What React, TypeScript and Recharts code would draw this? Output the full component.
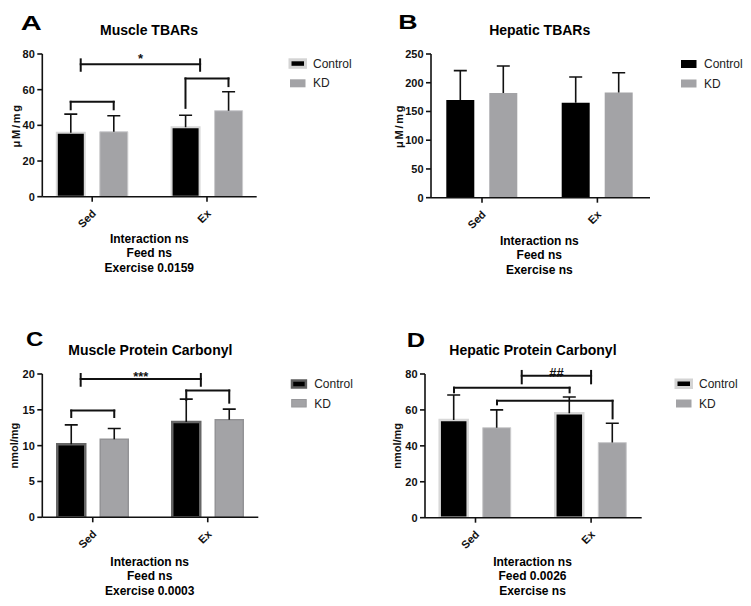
import React from 'react';
import { BarChart, Bar, XAxis, YAxis, ReferenceLine, ReferenceDot } from 'recharts';

// ---------- data ----------
const categories = ['Sed', 'Ex'];
const seriesNames = ['Control', 'KD'];

// A – Muscle TBARs (µM/mg)
const muscleTbarsControl = [35.8, 38.9];
const muscleTbarsControlErr = [10.5, 6.8];
const muscleTbarsKD = [36.4, 48.2];
const muscleTbarsKDErr = [9.0, 10.6];
const muscleTbarsTicks = [0, 20, 40, 60, 80];
const muscleTbarsStats = ['Interaction ns', 'Feed ns', 'Exercise 0.0159'];

// B – Hepatic TBARs (µM/mg)
const hepaticTbarsControl = [170, 165];
const hepaticTbarsControlErr = [51, 45];
const hepaticTbarsKD = [182, 183];
const hepaticTbarsKDErr = [47, 34.5];
const hepaticTbarsTicks = [0, 50, 100, 150, 200, 250];
const hepaticTbarsStats = ['Interaction ns', 'Feed ns', 'Exercise ns'];

// C – Muscle Protein Carbonyl (nmol/mg)
const musclePcControl = [10.2, 13.3];
const musclePcControlErr = [2.7, 3.2];
const musclePcKD = [10.9, 13.6];
const musclePcKDErr = [1.5, 1.5];
const musclePcTicks = [0, 5, 10, 15, 20];
const musclePcStats = ['Interaction ns', 'Feed ns', 'Exercise 0.0003'];

// D – Hepatic Protein Carbonyl (nmol/mg)
const hepaticPcControl = [54.4, 58.1];
const hepaticPcControlErr = [13.9, 9.1];
const hepaticPcKD = [50.1, 41.8];
const hepaticPcKDErr = [9.9, 10.8];
const hepaticPcTicks = [0, 20, 40, 60, 80];
const hepaticPcStats = ['Interaction ns', 'Feed 0.0026', 'Exercise ns'];

// significance brackets (x in category units 0..2, y in data units)
type Pair = { kind: 'pair'; a: [number, number]; b: [number, number]; y: number; endA: number; endB: number };
type IBar = { kind: 'ibar'; x1: number; x2: number; y: number; lo: number; hi: number; text: string };
type Br = Pair | IBar;

const muscleTbarsBrackets: Br[] = [
  { kind: 'ibar', x1: 0.4, x2: 1.44, y: 74.2, lo: 70.6, hi: 77.0, text: '*' },
  { kind: 'pair', a: [0, 0], b: [0, 1], y: 53.2, endA: 49, endB: 49 },
  { kind: 'pair', a: [1, 0], b: [1, 1], y: 66.3, endA: 49.8, endB: 62 },
];
const musclePcBrackets: Br[] = [
  { kind: 'ibar', x1: 0.395, x2: 1.44, y: 19.3, lo: 18.36, hi: 20.0, text: '***' },
  { kind: 'pair', a: [0, 0], b: [0, 1], y: 14.9, endA: 14.0, endB: 14.0 },
  { kind: 'pair', a: [1, 0], b: [1, 1], y: 17.7, endA: 16.4, endB: 16.0 },
];
const hepaticPcBrackets: Br[] = [
  { kind: 'ibar', x1: 0.9, x2: 1.5, y: 79.06, lo: 74.8, hi: 81.7, text: '##' },
  { kind: 'pair', a: [0, 0], b: [1, 0], y: 72.4, endA: 69.8, endB: 69.8 },
  { kind: 'pair', a: [0, 1], b: [1, 1], y: 65.1, endA: 63.1, endB: 55.3 },
];

// ---------- styles ----------
const FONT = '"Liberation Sans", Arial, Helvetica, sans-serif';
const INK = '#111111';
const CONTROL_FILL = '#000000';
const KD_FILL = '#a3a3a6';
const BAR_SIZE = 28;
const BAR_GAP = 15;

type PanelCfg = {
  id: string;
  left: number; top: number;
  plotLeft: number; plotRight: number; plotTop: number; plotBottom: number;
  padL: number; padR: number;
  yMax: number; ticks: number[];
  yLabel: string; yLabelShift: number; yLabelSpacing: number;
  control: number[]; controlErr: number[]; kd: number[]; kdErr: number[];
  brackets: Br[]; labelDy: number; labelSize: number;
  controlStroke?: string; controlStrokeW?: number; kdStroke?: string; kdStrokeW?: number;
};

const ErrShape = (props: any) => {
  const { x, y, width, height } = props;
  if (x == null || y == null || !isFinite(y) || !isFinite(height)) return null;
  const cx = x + width / 2;
  return (
    <g>
      <line x1={cx} x2={cx} y1={y} y2={y + height} stroke={INK} strokeWidth={1.6} />
      <line x1={cx - 6.5} x2={cx + 6.5} y1={y} y2={y} stroke={INK} strokeWidth={1.6} />
    </g>
  );
};

const RotTick = (props: any) => {
  const { x, y, payload } = props;
  const ax = x + 4.5;
  const ay = y + 10.5;
  return (
    <text x={ax} y={ay} textAnchor="end" transform={`rotate(-45 ${ax} ${ay})`}
      fontSize={11} fontWeight="bold" fill={INK} fontFamily={FONT}>{payload.value}</text>
  );
};

const YLabel = (props: any) => {
  const { viewBox, text, shiftX, spacing } = props;
  const cx = viewBox.x + shiftX;
  const cy = viewBox.y + viewBox.height / 2;
  return (
    <text x={cx} y={cy} transform={`rotate(-90 ${cx} ${cy})`} textAnchor="middle" dy="0.36em"
      fontSize={11} fontWeight="bold" fill={INK} fontFamily={FONT} letterSpacing={spacing}>{text}</text>
  );
};

const DotLabel = (props: any) => {
  const { viewBox, text, dy, size } = props;
  const cx = viewBox.x + (viewBox.width || 0) / 2;
  const cy = viewBox.y + (viewBox.height || 0) / 2;
  return (
    <text x={cx} y={cy + dy} textAnchor="middle" fontSize={size} fontWeight="bold" fill={INK} fontFamily={FONT}>{text}</text>
  );
};

function Panel({ cfg }: { cfg: PanelCfg }) {
  const data = categories.map((c, i) => ({
    cat: c,
    pos: i + 0.5,
    control: cfg.control[i],
    controlErr: cfg.controlErr[i],
    kd: cfg.kd[i],
    kdErr: cfg.kdErr[i],
  }));
  const plotW = cfg.plotRight - cfg.plotLeft;
  const band = (plotW - cfg.padL - cfg.padR) / categories.length;
  const half = (BAR_SIZE + BAR_GAP) / 2 / band;
  const barX = (c: number, s: number) => c + 0.5 + (s === 0 ? -half : half);
  const rightM = 12;
  const width = cfg.plotRight - cfg.left + rightM;
  const yAxisW = cfg.plotLeft - cfg.left;
  const xAxisH = 45;
  const height = cfg.plotBottom - cfg.top + xAxisH;

  const lines: any[] = [];
  const seg = (key: string, x1: number, y1: number, x2: number, y2: number) =>
    lines.push(
      <ReferenceLine key={key} xAxisId="n" ifOverflow="visible"
        segment={[{ x: x1, y: y1 }, { x: x2, y: y2 }]}
        stroke={INK} strokeWidth={2} strokeLinecap="square" />
    );
  cfg.brackets.forEach((b, i) => {
    if (b.kind === 'pair') {
      const xa = barX(b.a[0], b.a[1]);
      const xb = barX(b.b[0], b.b[1]);
      seg(`h${i}`, xa, b.y, xb, b.y);
      seg(`a${i}`, xa, b.y, xa, b.endA);
      seg(`b${i}`, xb, b.y, xb, b.endB);
    } else {
      seg(`h${i}`, b.x1, b.y, b.x2, b.y);
      seg(`l${i}`, b.x1, b.lo, b.x1, b.hi);
      seg(`r${i}`, b.x2, b.lo, b.x2, b.hi);
      lines.push(
        <ReferenceDot key={`t${i}`} xAxisId="n" x={(b.x1 + b.x2) / 2} y={b.y} r={0}
          fill="none" stroke="none" ifOverflow="visible"
          label={<DotLabel text={b.text} dy={cfg.labelDy} size={cfg.labelSize} />} />
      );
    }
  });

  const axisStyle = { stroke: INK, strokeWidth: 1.6 };

  return (
    <div style={{ position: 'absolute', left: cfg.left, top: cfg.top }}>
      <BarChart width={width} height={height} data={data}
        margin={{ top: cfg.plotTop - cfg.top, right: rightM, bottom: 0, left: 0 }}
        barSize={BAR_SIZE} barGap={BAR_GAP}>
        <XAxis dataKey="cat" height={xAxisH} interval={0}
          padding={{ left: cfg.padL, right: cfg.padR }}
          axisLine={axisStyle} tickLine={axisStyle} tickSize={5}
          tick={<RotTick />} />
        <XAxis xAxisId="n" dataKey="pos" type="number" domain={[0, 2]} allowDataOverflow hide
          padding={{ left: cfg.padL, right: cfg.padR }} />
        <YAxis width={yAxisW} domain={[0, cfg.yMax]} ticks={cfg.ticks} interval={0}
          allowDataOverflow
          axisLine={axisStyle} tickLine={axisStyle} tickSize={5} tickMargin={2.5}
          tick={{ fontSize: 11, fontWeight: 'bold', fill: INK, fontFamily: FONT }}
          label={<YLabel text={cfg.yLabel} shiftX={cfg.yLabelShift} spacing={cfg.yLabelSpacing} />} />
        <Bar dataKey="control" name={seriesNames[0]} stackId="c" fill={CONTROL_FILL}
          stroke={cfg.controlStroke || 'none'} strokeWidth={cfg.controlStrokeW || 0}
          isAnimationActive={false} />
        <Bar dataKey="controlErr" stackId="c" fill="none" shape={ErrShape} isAnimationActive={false} legendType="none" />
        <Bar dataKey="kd" name={seriesNames[1]} stackId="k" fill={KD_FILL}
          stroke={cfg.kdStroke || 'none'} strokeWidth={cfg.kdStrokeW || 0}
          isAnimationActive={false} />
        <Bar dataKey="kdErr" stackId="k" fill="none" shape={ErrShape} isAnimationActive={false} legendType="none" />
        {lines}
      </BarChart>
    </div>
  );
}

const panels: PanelCfg[] = [
  {
    id: 'A', left: 0, top: 0,
    plotLeft: 42.3, plotRight: 256.7, plotTop: 54, plotBottom: 196.7,
    padL: -7.5, padR: -7.7, yMax: 80, ticks: muscleTbarsTicks,
    yLabel: 'μM/mg', yLabelShift: 16, yLabelSpacing: 1.8,
    control: muscleTbarsControl, controlErr: muscleTbarsControlErr, kd: muscleTbarsKD, kdErr: muscleTbarsKDErr,
    brackets: muscleTbarsBrackets, labelDy: -1.7, labelSize: 13,
    controlStroke: '#d8d8d8', controlStrokeW: 2, kdStroke: '#cbcbcd', kdStrokeW: 1,
  },
  {
    id: 'B', left: 375, top: 0,
    plotLeft: 431, plotRight: 650, plotTop: 54, plotBottom: 197.7,
    padL: -6.7, padR: -5.1, yMax: 250, ticks: hepaticTbarsTicks,
    yLabel: 'μM/mg', yLabelShift: 24, yLabelSpacing: 1.8,
    control: hepaticTbarsControl, controlErr: hepaticTbarsControlErr, kd: hepaticTbarsKD, kdErr: hepaticTbarsKDErr,
    brackets: [], labelDy: 0, labelSize: 13,
  },
  {
    id: 'C', left: 0, top: 300,
    plotLeft: 42.3, plotRight: 258.3, plotTop: 374, plotBottom: 517.3,
    padL: -7.05, padR: -6.95, yMax: 20, ticks: musclePcTicks,
    yLabel: 'nmol/mg', yLabelShift: 14.3, yLabelSpacing: 0,
    control: musclePcControl, controlErr: musclePcControlErr, kd: musclePcKD, kdErr: musclePcKDErr,
    brackets: musclePcBrackets, labelDy: 2, labelSize: 13,
    controlStroke: '#666666', controlStrokeW: 2.5, kdStroke: '#939396', kdStrokeW: 1.5,
  },
  {
    id: 'D', left: 375, top: 300,
    plotLeft: 425, plotRight: 641.7, plotTop: 374, plotBottom: 517.7,
    padL: -7.3, padR: -7.2, yMax: 80, ticks: hepaticPcTicks,
    yLabel: 'nmol/mg', yLabelShift: 22, yLabelSpacing: 0,
    control: hepaticPcControl, controlErr: hepaticPcControlErr, kd: hepaticPcKD, kdErr: hepaticPcKDErr,
    brackets: hepaticPcBrackets, labelDy: 1, labelSize: 13,
    controlStroke: '#d8d8d8', controlStrokeW: 2.5, kdStroke: '#cbcbcd', kdStrokeW: 1,
  },
];

type TextCfg = {
  letter: string; lx: number; ly: number; lw: number;
  title: string; tx: number; ty: number;
  stats: string[]; sx: number; sy: number[];
  legX: number; legY: number; legStyle: 'light' | 'plain' | 'dark';
};

const texts: TextCfg[] = [
  { letter: 'A', lx: 20.7, ly: 30, lw: 21, title: 'Muscle TBARs', tx: 149, ty: 35,
    stats: muscleTbarsStats, sx: 149.3, sy: [243.3, 257.3, 271.5], legX: 290, legY: 59.8, legStyle: 'light' },
  { letter: 'B', lx: 398.3, ly: 28.5, lw: 19.3, title: 'Hepatic TBARs', tx: 539.7, ty: 35,
    stats: hepaticTbarsStats, sx: 539.3, sy: [244.8, 259.3, 273.8], legX: 681, legY: 60, legStyle: 'plain' },
  { letter: 'C', lx: 26, ly: 345.7, lw: 17.3, title: 'Muscle Protein Carbonyl', tx: 150.3, ty: 355.3,
    stats: musclePcStats, sx: 149.7, sy: [565.5, 580, 594.7], legX: 291.2, legY: 380, legStyle: 'dark' },
  { letter: 'D', lx: 406.7, ly: 346.7, lw: 18.3, title: 'Hepatic Protein Carbonyl', tx: 532.9, ty: 355.3,
    stats: hepaticPcStats, sx: 532.5, sy: [565.5, 580, 594.7], legX: 676, legY: 380, legStyle: 'light' },
];

function LegendSwatch({ x, y, s, style }: { x: number; y: number; s: number; style: string }) {
  const w = 15.5, h = 8;
  if (s === 0) {
    if (style === 'light') return <rect x={x} y={y} width={w} height={h - 0.5} fill={CONTROL_FILL} stroke="#d4d4d4" strokeWidth={3} />;
    if (style === 'dark') return <rect x={x + 0.8} y={y + 0.5} width={w - 1.6} height={h - 1} fill={CONTROL_FILL} stroke="#5e5e5e" strokeWidth={2.5} />;
    return <rect x={x} y={y} width={w} height={h} fill={CONTROL_FILL} />;
  }
  if (style === 'dark') return <rect x={x + 0.5} y={y} width={w - 1} height={h - 0.5} fill={KD_FILL} stroke="#98989b" strokeWidth={1} />;
  return <rect x={x} y={y} width={w} height={h} fill={KD_FILL} />;
}

export default function App() {
  return (
    <div style={{ position: 'absolute', left: 0, top: 0, width: 751, height: 606, background: '#ffffff', fontFamily: FONT }}>
      {panels.map((p) => <Panel key={p.id} cfg={p} />)}
      <svg width={751} height={606} style={{ position: 'absolute', left: 0, top: 0, pointerEvents: 'none' }}>
        {texts.map((t) => (
          <g key={t.letter} fontFamily={FONT}>
            <text x={t.lx} y={t.ly} fontSize={21} fontWeight="bold" fill="#000" textLength={t.lw} lengthAdjust="spacingAndGlyphs">{t.letter}</text>
            <text x={t.tx} y={t.ty} fontSize={14} fontWeight="bold" fill="#000" textAnchor="middle">{t.title}</text>
            {t.stats.map((s, i) => (
              <text key={i} x={t.sx} y={t.sy[i]} fontSize={12} fontWeight="bold" fill="#000" textAnchor="middle">{s}</text>
            ))}
            {seriesNames.map((n, i) => (
              <g key={n}>
                <LegendSwatch x={t.legX} y={t.legY + i * 19.5} s={i} style={t.legStyle} />
                <text x={t.legX + 23} y={t.legY + i * 19.5 + 8} fontSize={12} fill="#222">{n}</text>
              </g>
            ))}
          </g>
        ))}
      </svg>
    </div>
  );
}
